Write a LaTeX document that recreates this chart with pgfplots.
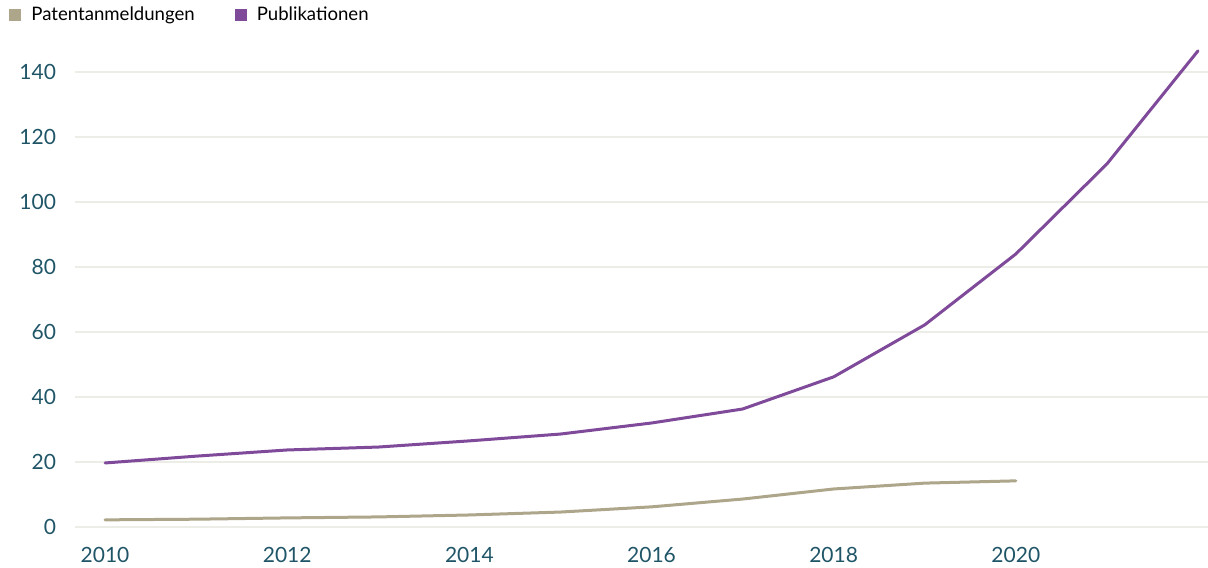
\documentclass[border=0pt]{standalone}
\usepackage{fontspec}
\setmainfont{Lato}
\usepackage{pgfplots}
\pgfplotsset{compat=1.18}
\definecolor{pub}{HTML}{7F4A9A}
\definecolor{pat}{HTML}{AEA68A}
\definecolor{tickc}{HTML}{1F5567}
\definecolor{gridc}{HTML}{EDEDE8}
\begin{document}
\begin{tikzpicture}
\begin{axis}[
  scale only axis,
  width=566.5pt, height=241pt,
  xmin=2009.67, xmax=2022.11,
  ymin=0, ymax=148.3,
  axis line style={draw=none},
  xtick={2010,2012,...,2020},
  ytick={0,20,...,140},
  x tick label style={/pgf/number format/1000 sep={}, font=\fontsize{10.5}{11}\selectfont, text=tickc, yshift=-6.5pt},
  y tick label style={font=\fontsize{10.5}{11}\selectfont, text=tickc, xshift=-6pt},
  /pgf/number format/assume math mode=true,
  major tick length=0pt,
  xmajorgrids=false,
  ymajorgrids=true,
  grid style={draw=gridc, line width=0.8pt},
  clip=false,
  legend columns=2,
  legend style={draw=none, fill=none, inner sep=0pt, at={(rel axis cs:0,1)}, anchor=west, xshift=-33pt, yshift=14.75pt,
    font=\fontsize{9.3}{10}\selectfont,
    /tikz/every odd column/.append style={column sep=3pt},
    /tikz/every even column/.append style={column sep=18pt}},
  legend image code/.code={\fill[#1,draw=none] (0pt,-3pt) rectangle (6pt,3pt);},
]
\addplot[pat, line width=1.5pt, line join=round, line cap=round] coordinates {
(2010,2.2) (2011,2.4) (2012,2.8) (2013,3.1) (2014,3.7) (2015,4.6) (2016,6.2) (2017,8.6) (2018,11.7) (2019,13.5) (2020,14.2)};
\addlegendentry{Patentanmeldungen}
\addplot[pub, line width=1.5pt, line join=round, line cap=round] coordinates {
(2010,19.7) (2011,21.8) (2012,23.7) (2013,24.6) (2014,26.5) (2015,28.6) (2016,32.0) (2017,36.3) (2018,46.2) (2019,62.2) (2020,84.0) (2021,111.7) (2022,146.5)};
\addlegendentry{Publikationen}
\end{axis}
\pgfresetboundingbox
\path ([xshift=-37.5pt,yshift=-20pt]current axis.south west) rectangle ++(604pt,283.5pt);
\end{tikzpicture}
\end{document}
